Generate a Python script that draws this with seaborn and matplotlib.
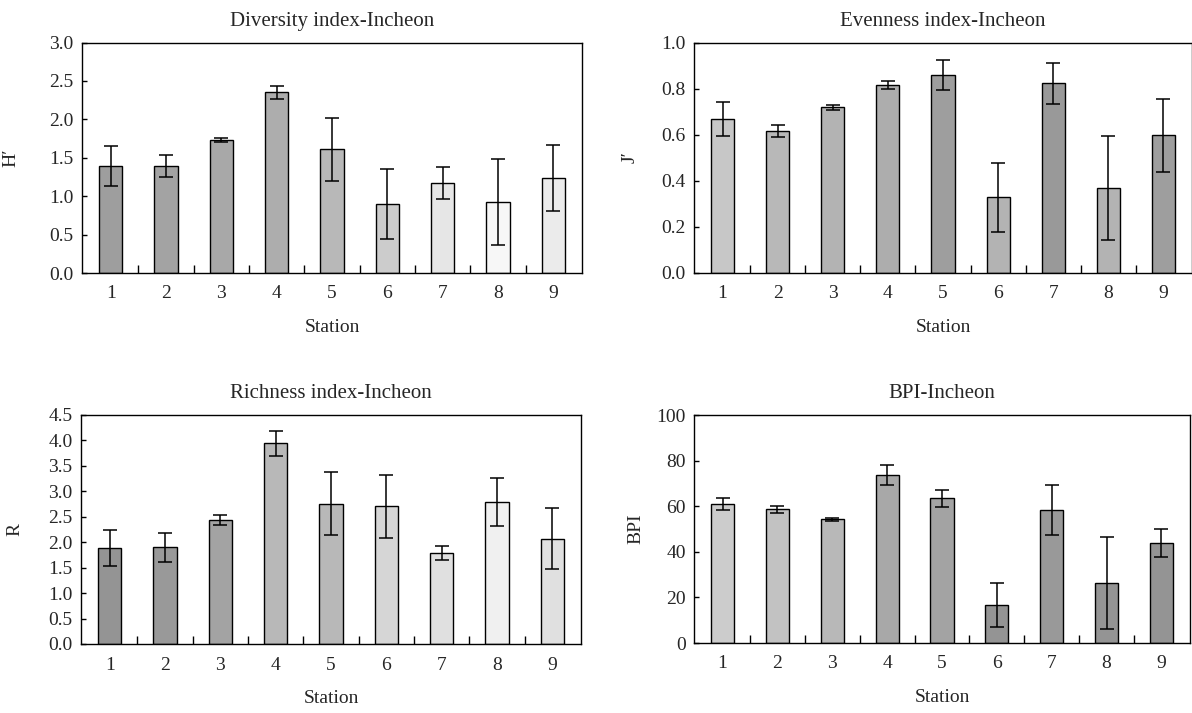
import numpy as np
import pandas as pd
import matplotlib
matplotlib.use("Agg")
import matplotlib.pyplot as plt
import seaborn as sns
from matplotlib.ticker import FixedLocator, FormatStrFormatter

# ---------------- data ----------------
stations = ["1", "2", "3", "4", "5", "6", "7", "8", "9"]

diversity_mean = [1.39, 1.39, 1.73, 2.35, 1.61, 0.90, 1.17, 0.93, 1.24]
diversity_sd = [0.26, 0.145, 0.03, 0.08, 0.41, 0.455, 0.21, 0.56, 0.43]

evenness_mean = [0.668, 0.616, 0.719, 0.814, 0.859, 0.328, 0.823, 0.367, 0.596]
evenness_sd = [0.074, 0.025, 0.011, 0.017, 0.066, 0.150, 0.089, 0.226, 0.157]

richness_mean = [1.88, 1.90, 2.43, 3.94, 2.76, 2.71, 1.79, 2.79, 2.07]
richness_sd = [0.357, 0.29, 0.10, 0.245, 0.615, 0.62, 0.145, 0.48, 0.60]

bpi_mean = [61.1, 58.6, 54.2, 73.6, 63.4, 16.6, 58.3, 26.4, 43.7]
bpi_sd = [2.55, 1.5, 0.8, 4.5, 3.7, 9.5, 10.9, 20.2, 6.1]

titles = ["Diversity index-Incheon", "Evenness index-Incheon",
          "Richness index-Incheon", "BPI-Incheon"]
ylabels = ["H\u2032", "J\u2032", "R", "BPI"]
xlabel = "Station"
yticks = [
    [0.0, 0.5, 1.0, 1.5, 2.0, 2.5, 3.0],
    [0.0, 0.2, 0.4, 0.6, 0.8, 1.0],
    [0.0, 0.5, 1.0, 1.5, 2.0, 2.5, 3.0, 3.5, 4.0, 4.5],
    [0, 20, 40, 60, 80, 100],
]

# ---------------- styles ----------------
shades = [
    [0.62, 0.64, 0.66, 0.68, 0.72, 0.80, 0.90, 0.97, 0.92],
    [0.78, 0.72, 0.70, 0.68, 0.62, 0.70, 0.60, 0.70, 0.62],
    [0.58, 0.60, 0.64, 0.72, 0.72, 0.84, 0.88, 0.94, 0.88],
    [0.80, 0.76, 0.72, 0.66, 0.64, 0.58, 0.60, 0.58, 0.58],
]
fmts = ["%.1f", "%.1f", "%.1f", "%d"]

sns.set_theme(style="white")
plt.rcParams["font.family"] = ["Liberation Serif", "DejaVu Serif"]
plt.rcParams["mathtext.fontset"] = "stix"

W, H = 1192, 713
fig = plt.figure(figsize=(W / 100, H / 100), dpi=100)
fig.patch.set_facecolor("white")

# axes boxes in pixels: left, top, right, bottom
boxes = [
    (82, 42.5, 582, 273),
    (694, 42.5, 1192, 272.5),
    (81, 415, 581, 644),
    (694, 415, 1190, 643),
]
ylab_x = [-0.126, -0.112, -0.116, -0.10]

means = [diversity_mean, evenness_mean, richness_mean, bpi_mean]
sds = [diversity_sd, evenness_sd, richness_sd, bpi_sd]

for i in range(4):
    l, t, r, b = boxes[i]
    ax = fig.add_axes([l / W, (H - b) / H, (r - l) / W, (b - t) / H])
    df = pd.DataFrame({"Station": stations, "value": means[i]})
    pal = [str(s) for s in shades[i]]
    sns.barplot(data=df, x="Station", y="value", hue="Station", palette=pal,
                legend=False, width=0.42, edgecolor="black", linewidth=1.0,
                errorbar=None, ax=ax, saturation=1)
    ax.errorbar(np.arange(len(stations)), means[i], yerr=sds[i], fmt="none",
                ecolor="black", elinewidth=1.1, capsize=5, capthick=1.1)
    ax.set_xlim(-0.52, 8.52)
    ax.set_ylim(yticks[i][0], yticks[i][-1])
    ax.set_yticks(yticks[i])
    ax.yaxis.set_major_formatter(FormatStrFormatter(fmts[i]))
    ax.xaxis.set_minor_locator(FixedLocator(np.arange(0.5, 8.0, 1.0)))
    ax.tick_params(axis="x", which="major", length=0, pad=9, labelsize=14)
    ax.tick_params(axis="x", which="minor", direction="in", length=6,
                   width=1, color="black", bottom=True)
    ax.tick_params(axis="y", which="major", direction="in", length=3.5,
                   width=1, color="black", left=True, pad=6, labelsize=14)
    for s in ax.spines.values():
        s.set_visible(True)
        s.set_color("black")
        s.set_linewidth(1.0)
    ax.set_title(titles[i], fontsize=15, pad=12)
    ax.set_xlabel(xlabel, fontsize=14, labelpad=12)
    ax.set_ylabel(ylabels[i], fontsize=14)
    ax.yaxis.set_label_coords(ylab_x[i], 0.5)
    ax.set_facecolor("white")

fig.savefig("out.png", dpi=100, facecolor="white")
